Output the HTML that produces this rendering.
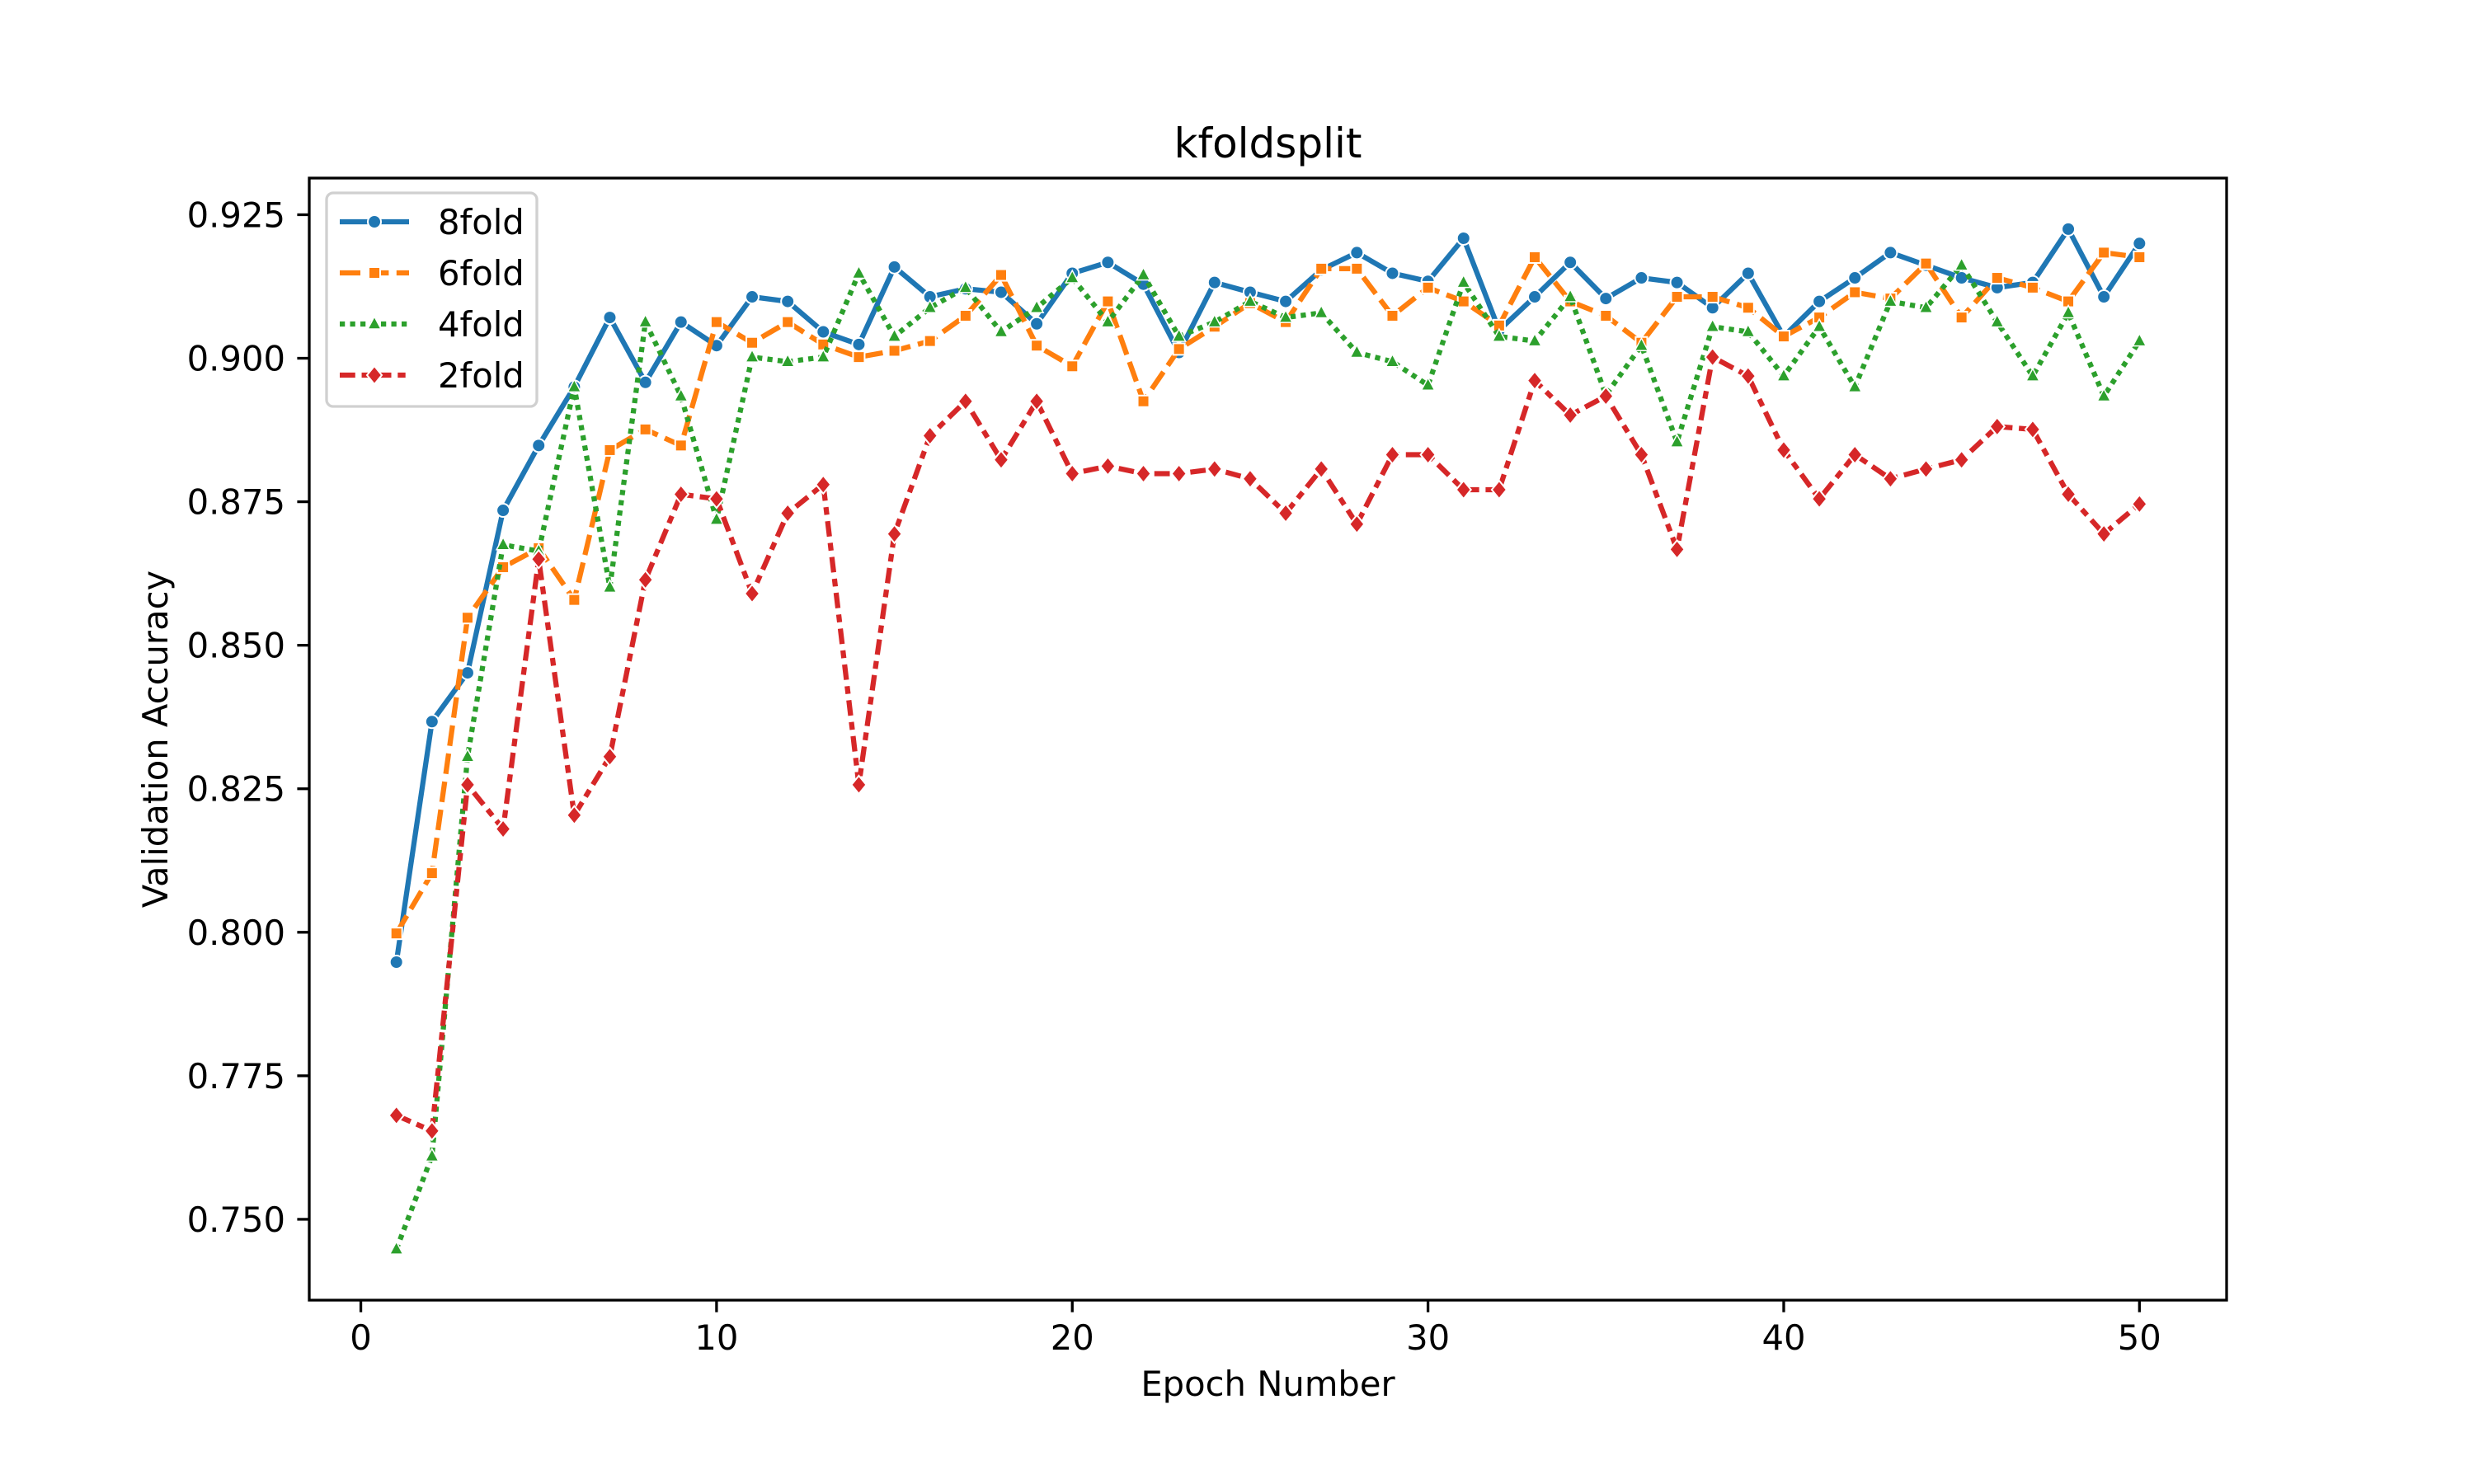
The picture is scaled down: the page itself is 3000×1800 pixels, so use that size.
<!DOCTYPE html>
<html><head><meta charset="utf-8"><style>
html,body{margin:0;padding:0;background:#fff}
svg{display:block}
text{font-family:"DejaVu Sans","Liberation Sans",sans-serif;fill:#000}
</style></head><body>
<svg id="chart" width="3000" height="1800" viewBox="0 0 3000 1800" xmlns="http://www.w3.org/2000/svg">
<rect width="3000" height="1800" fill="#fff"/>
<g id="plot"></g>
</svg>
<script>
const epochs = Array.from({length:50},(_,i)=>i+1);
const fold8 = [0.7948,0.8367,0.8452,0.8735,0.8848,0.895,0.9071,0.8958,0.9063,0.9022,0.9107,0.9099,0.9046,0.9024,0.9159,0.9107,0.9121,0.9115,0.906,0.9148,0.9167,0.9129,0.901,0.9132,0.9115,0.9099,0.9154,0.9184,0.9148,0.9134,0.9209,0.9049,0.9107,0.9167,0.9104,0.914,0.9132,0.9088,0.9148,0.9038,0.9099,0.914,0.9184,0.9162,0.914,0.9123,0.9132,0.9225,0.9107,0.920];
const fold6 = [0.7998,0.8103,0.8548,0.8636,0.8669,0.8579,0.884,0.8876,0.8848,0.9063,0.9027,0.9063,0.9024,0.9002,0.9013,0.903,0.9074,0.9145,0.9022,0.8986,0.9099,0.8925,0.9016,0.9055,0.9096,0.9063,0.9156,0.9156,0.9074,0.9123,0.9099,0.9057,0.9176,0.9099,0.9074,0.9027,0.9107,0.9107,0.9088,0.9038,0.9071,0.9115,0.9104,0.9165,0.9071,0.914,0.9123,0.9099,0.9184,0.9176];
const fold4 = [0.7448,0.761,0.8306,0.8675,0.8664,0.895,0.8601,0.9063,0.8934,0.8719,0.9002,0.8994,0.9002,0.9148,0.9038,0.9088,0.9123,0.9046,0.9088,0.914,0.9063,0.9145,0.9038,0.9063,0.9099,0.9071,0.9079,0.901,0.8994,0.8953,0.9132,0.9038,0.903,0.9107,0.8936,0.9022,0.8854,0.9055,0.9046,0.8969,0.9055,0.895,0.9099,0.9088,0.9162,0.9063,0.8969,0.9079,0.8934,0.903];
const fold2 = [0.7681,0.7654,0.8257,0.818,0.865,0.8204,0.8306,0.8614,0.8763,0.8755,0.859,0.873,0.878,0.8257,0.8694,0.8865,0.8925,0.8823,0.8925,0.8799,0.8812,0.8799,0.8799,0.8807,0.879,0.873,0.8807,0.8711,0.8832,0.8832,0.8771,0.8771,0.8961,0.8901,0.8934,0.8832,0.8667,0.9002,0.8969,0.884,0.8755,0.8832,0.879,0.8807,0.8823,0.8881,0.8876,0.8763,0.8694,0.8746];
const xTicks = [0,10,20,30,40,50];
const yTicks = [0.750,0.775,0.800,0.825,0.850,0.875,0.900,0.925];
const seriesNames = ["8fold","6fold","4fold","2fold"];

const NS="http://www.w3.org/2000/svg";
const L=375,R=2700,T=216,B=1577;
const all=[].concat(fold8,fold6,fold4,fold2);
const ymin=Math.min(...all), ymax=Math.max(...all), yp=(ymax-ymin)*0.05;
const y0=ymin-yp, y1=ymax+yp;
const xmn=Math.min(...epochs), xmx=Math.max(...epochs), xp=(xmx-xmn)*0.05;
const x0=xmn-xp, x1=xmx+xp;
const sx=v=>L+(v-x0)/(x1-x0)*(R-L);
const sy=v=>B-(v-y0)/(y1-y0)*(B-T);
const g=document.getElementById('plot');
function mk(tag,attrs,parent){const e=document.createElementNS(NS,tag);for(const k in attrs)e.setAttribute(k,attrs[k]);(parent||g).appendChild(e);return e;}

const styles=[
 {c:"#1f77b4",dash:"",m:"circle"},
 {c:"#ff7f0e",dash:"25,9.4",m:"square"},
 {c:"#2ca02c",dash:"6.25,6.25",m:"triangle"},
 {c:"#d62728",dash:"18.75,7.8,9.4,7.8",m:"diamond"}
];
const datasets=[fold8,fold6,fold4,fold2];

function marker(type,x,y,color,parent){
  let e;
  if(type==="circle") e=mk('circle',{cx:x,cy:y,r:8,fill:color,stroke:"#fff","stroke-width":2},parent);
  else if(type==="square") e=mk('rect',{x:x-7,y:y-7,width:14,height:14,fill:color,stroke:"#fff","stroke-width":2},parent);
  else if(type==="triangle") e=mk('polygon',{points:`${x},${y-9} ${x-8},${y+6} ${x+8},${y+6}`,fill:color,stroke:"#fff","stroke-width":1.5},parent);
  else e=mk('polygon',{points:`${x},${y-11} ${x+9},${y} ${x},${y+11} ${x-9},${y}`,fill:color,stroke:"#fff","stroke-width":2},parent);
  return e;
}

datasets.forEach((d,si)=>{
  const s=styles[si];
  const grp=mk('g',{});
  
  
  const pts=d.map((v,i)=>sx(epochs[i]).toFixed(2)+","+sy(v).toFixed(2)).join(" ");
  const line=mk('polyline',{points:pts,fill:"none",stroke:s.c,"stroke-width":6.25,"stroke-dasharray":s.dash,"stroke-linejoin":"round"},grp);
  
  
  d.forEach((v,i)=>{
    const m=marker(s.m,sx(epochs[i]),sy(v),s.c,grp);
    
    
  });
});

const frame=mk('rect',{x:L,y:T,width:R-L,height:B-T,fill:"none",stroke:"#000","stroke-width":3.3});



xTicks.forEach(t=>{
  const x=sx(t);
  const tk=mk('line',{x1:x,x2:x,y1:B,y2:B+14.6,stroke:"#000","stroke-width":3.3});
  
  
  const tx=mk('text',{x:x,y:B+60,"text-anchor":"middle","font-size":41.7});
  tx.textContent=t;
  
  
});
yTicks.forEach(t=>{
  const y=sy(t);
  const tk=mk('line',{x1:L-14.6,x2:L,y1:y,y2:y,stroke:"#000","stroke-width":3.3});
  
  
  const tx=mk('text',{x:L-29,y:y+15,"text-anchor":"end","font-size":41.7});
  tx.textContent=t.toFixed(3);
  
  
});

const title=mk('text',{x:(L+R)/2,y:T-25,"text-anchor":"middle","font-size":50});
title.textContent="kfoldsplit";


const xl=mk('text',{x:(L+R)/2,y:1693,"text-anchor":"middle","font-size":41.7});
xl.textContent="Epoch Number";


const yl=mk('text',{x:0,y:0,"text-anchor":"middle","font-size":41.7,transform:`translate(203,${(T+B)/2}) rotate(-90)`});
yl.textContent="Validation Accuracy";



const lg=mk('g',{});


const lb=mk('rect',{x:396,y:234,width:255,height:259,rx:8,fill:"#fff","fill-opacity":0.8,stroke:"#d0d0d0","stroke-width":3.3},lg);


seriesNames.forEach((n,i)=>{
  const s=styles[i];
  const y=269+i*62;
  const ent=mk('g',{},lg);
  
  
  mk('line',{x1:412,x2:496,y1:y,y2:y,stroke:s.c,"stroke-width":6.25,"stroke-dasharray":s.dash},ent);
  marker(s.m,454,y,s.c,ent);
  const t=mk('text',{x:531,y:y+15,"font-size":41.7},ent);
  t.textContent=n;
});
</script>
</body></html>
